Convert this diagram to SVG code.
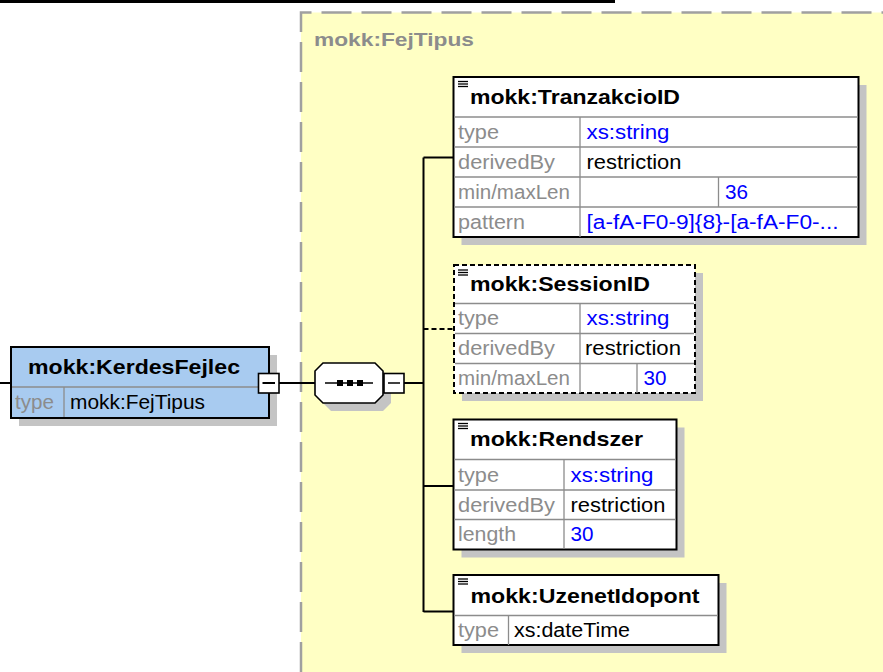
<svg xmlns="http://www.w3.org/2000/svg" width="883" height="672" viewBox="0 0 883 672">
<style>
.bg{fill:#ffffff}
.yel{fill:#ffffc4}
.ybord{fill:none;stroke:#a0a0a0;stroke-width:2.5;stroke-dasharray:30,10}
.shadow{fill:#c4c4c4}
.box{fill:#ffffff;stroke:#000000;stroke-width:2}
.dbox{fill:#ffffff;stroke:#000000;stroke-width:2;stroke-dasharray:5,3}
.sep{stroke:#8c8c8c;stroke-width:1.3;fill:none}
.hd{font-family:"Liberation Sans",Arial,sans-serif;font-weight:bold;font-size:21px;fill:#000000}
.lbl{font-family:"Liberation Sans",Arial,sans-serif;font-size:19.5px;fill:#8c8c8c}
.val{font-family:"Liberation Sans",Arial,sans-serif;font-size:19.5px;fill:#000000}
.blu{font-family:"Liberation Sans",Arial,sans-serif;font-size:19.5px;fill:#0000ff}
.ytxt{font-family:"Liberation Sans",Arial,sans-serif;font-weight:bold;font-size:19px;fill:#8c8c8c}
.con{stroke:#000000;stroke-width:2;fill:none}
.dcon{stroke:#000000;stroke-width:2;fill:none;stroke-dasharray:5,3}
.ico{stroke:#000000;stroke-width:1.3}
.mbox{fill:#ffffff;stroke:#000000;stroke-width:1.6}
</style>
<rect class="bg" x="0" y="0" width="883" height="672"/>
<rect x="0" y="0" width="615" height="3" fill="#000000"/>

<g id="complexType-FejTipus">
<rect class="yel" x="301" y="12.5" width="582" height="660"/>
<path class="ybord" d="M301,672 L301,12.5 L883,12.5"/>
<text class="ytxt" x="314" y="46" textLength="160" lengthAdjust="spacingAndGlyphs">mokk:FejTipus</text>
</g>

<g id="connectors">
<line class="con" x1="0" y1="383" x2="11" y2="383"/>
<line class="con" x1="279" y1="383" x2="315" y2="383"/>
<line class="con" x1="404" y1="383" x2="424" y2="383"/>
<line class="con" x1="423.5" y1="157.5" x2="423.5" y2="612"/>
<line class="con" x1="423.5" y1="157.5" x2="453" y2="157.5"/>
<line class="dcon" x1="423.5" y1="329" x2="454" y2="329"/>
<line class="con" x1="423.5" y1="486" x2="453" y2="486"/>
<line class="con" x1="423.5" y1="611.5" x2="453" y2="611.5"/>
</g>

<g id="KerdesFejlec">
<rect class="shadow" x="19" y="355" width="258" height="71"/>
<rect x="11" y="347" width="258" height="71" fill="#a8cbf0" stroke="#000000" stroke-width="2"/>
<line class="sep" x1="12" y1="387" x2="268" y2="387"/>
<line class="sep" x1="64" y1="387" x2="64" y2="417"/>
<text class="hd" x="28" y="374" textLength="212" lengthAdjust="spacingAndGlyphs">mokk:KerdesFejlec</text>
<text class="lbl" x="15" y="408.5" textLength="39" lengthAdjust="spacingAndGlyphs">type</text>
<text class="val" x="70" y="408.5" textLength="135" lengthAdjust="spacingAndGlyphs">mokk:FejTipus</text>
<rect class="mbox" x="258.5" y="373.5" width="20.5" height="19.5"/>
<line class="con" x1="262.5" y1="383" x2="275" y2="383" stroke-width="1.5"/>
</g>

<g id="sequence">
<polygon class="shadow" points="331,371 383,371 391,379 391,403 383,411 331,411 323,403 323,379"/>
<polygon fill="#ffffff" stroke="#000000" stroke-width="1.6" points="323,363 375,363 383,371 383,395 375,403 323,403 315,395 315,371"/>
<line x1="325" y1="383" x2="373" y2="383" stroke="#000000" stroke-width="1.5"/>
<rect x="337" y="380" width="6" height="6" fill="#000000"/>
<rect x="347" y="380" width="6" height="6" fill="#000000"/>
<rect x="357" y="380" width="6" height="6" fill="#000000"/>
<rect class="mbox" x="384" y="373.5" width="20" height="19.5"/>
<line x1="388" y1="383" x2="400" y2="383" stroke="#000000" stroke-width="1.5"/>
</g>

<g id="TranzakcioID">
<rect class="shadow" x="461.5" y="85" width="405" height="160"/>
<rect class="box" x="453.5" y="77" width="405" height="160"/>
<line class="sep" x1="454" y1="117" x2="858" y2="117"/>
<line class="sep" x1="454" y1="147" x2="858" y2="147"/>
<line class="sep" x1="454" y1="177" x2="858" y2="177"/>
<line class="sep" x1="454" y1="207" x2="858" y2="207"/>
<line class="sep" x1="580" y1="117" x2="580" y2="237"/>
<line class="sep" x1="718.5" y1="177" x2="718.5" y2="207"/>
<line class="ico" x1="458" y1="81.5" x2="468" y2="81.5"/>
<line class="ico" x1="458" y1="84" x2="468" y2="84"/>
<line class="ico" x1="458" y1="86.5" x2="468" y2="86.5"/>
<text class="hd" x="470" y="104" textLength="210" lengthAdjust="spacingAndGlyphs">mokk:TranzakcioID</text>
<text class="lbl" x="458" y="138.5" textLength="41" lengthAdjust="spacingAndGlyphs">type</text>
<text class="blu" x="586.5" y="138.5" textLength="83" lengthAdjust="spacingAndGlyphs">xs:string</text>
<text class="lbl" x="458" y="168.5" textLength="97" lengthAdjust="spacingAndGlyphs">derivedBy</text>
<text class="val" x="586.5" y="168.5" textLength="95" lengthAdjust="spacingAndGlyphs">restriction</text>
<text class="lbl" x="458" y="198.5" textLength="112" lengthAdjust="spacingAndGlyphs">min/maxLen</text>
<text class="blu" x="725" y="198.5" textLength="23" lengthAdjust="spacingAndGlyphs">36</text>
<text class="lbl" x="458" y="228.5" textLength="67" lengthAdjust="spacingAndGlyphs">pattern</text>
<text class="blu" x="586.5" y="228.5" textLength="252" lengthAdjust="spacingAndGlyphs">[a-fA-F0-9]{8}-[a-fA-F0-...</text>
</g>

<g id="SessionID">
<rect class="shadow" x="462" y="273" width="241" height="128"/>
<rect class="dbox" x="454" y="265" width="241" height="128"/>
<line class="sep" x1="455" y1="303.5" x2="694" y2="303.5"/>
<line class="sep" x1="455" y1="333.5" x2="694" y2="333.5"/>
<line class="sep" x1="455" y1="363.5" x2="694" y2="363.5"/>
<line class="sep" x1="580" y1="303.5" x2="580" y2="393"/>
<line class="sep" x1="637" y1="363.5" x2="637" y2="393"/>
<line class="ico" x1="458" y1="270" x2="468" y2="270"/>
<line class="ico" x1="458" y1="272.5" x2="468" y2="272.5"/>
<line class="ico" x1="458" y1="275" x2="468" y2="275"/>
<text class="hd" x="470" y="290.5" textLength="180" lengthAdjust="spacingAndGlyphs">mokk:SessionID</text>
<text class="lbl" x="458" y="325" textLength="41" lengthAdjust="spacingAndGlyphs">type</text>
<text class="blu" x="586.5" y="325" textLength="83" lengthAdjust="spacingAndGlyphs">xs:string</text>
<text class="lbl" x="458" y="355" textLength="97" lengthAdjust="spacingAndGlyphs">derivedBy</text>
<text class="val" x="585" y="355" textLength="96" lengthAdjust="spacingAndGlyphs">restriction</text>
<text class="lbl" x="458" y="385" textLength="112" lengthAdjust="spacingAndGlyphs">min/maxLen</text>
<text class="blu" x="643.5" y="385" textLength="23" lengthAdjust="spacingAndGlyphs">30</text>
</g>

<g id="Rendszer">
<rect class="shadow" x="461.5" y="427.5" width="223" height="130"/>
<rect class="box" x="453.5" y="419.5" width="223" height="130"/>
<line class="sep" x1="454" y1="459.5" x2="676" y2="459.5"/>
<line class="sep" x1="454" y1="490" x2="676" y2="490"/>
<line class="sep" x1="454" y1="519.5" x2="676" y2="519.5"/>
<line class="sep" x1="564" y1="459.5" x2="564" y2="549"/>
<line class="ico" x1="458" y1="423.5" x2="468" y2="423.5"/>
<line class="ico" x1="458" y1="426" x2="468" y2="426"/>
<line class="ico" x1="458" y1="428.5" x2="468" y2="428.5"/>
<text class="hd" x="470" y="445.5" textLength="173" lengthAdjust="spacingAndGlyphs">mokk:Rendszer</text>
<text class="lbl" x="458" y="481.5" textLength="41" lengthAdjust="spacingAndGlyphs">type</text>
<text class="blu" x="570.5" y="481.5" textLength="83" lengthAdjust="spacingAndGlyphs">xs:string</text>
<text class="lbl" x="458" y="511.5" textLength="97" lengthAdjust="spacingAndGlyphs">derivedBy</text>
<text class="val" x="570.5" y="511.5" textLength="95" lengthAdjust="spacingAndGlyphs">restriction</text>
<text class="lbl" x="458" y="541" textLength="58" lengthAdjust="spacingAndGlyphs">length</text>
<text class="blu" x="570.5" y="541" textLength="23" lengthAdjust="spacingAndGlyphs">30</text>
</g>

<g id="UzenetIdopont">
<rect class="shadow" x="461.5" y="583" width="265" height="70"/>
<rect class="box" x="453.5" y="575" width="265" height="70"/>
<line class="sep" x1="454" y1="615.5" x2="718" y2="615.5"/>
<line class="sep" x1="508.5" y1="615.5" x2="508.5" y2="645"/>
<line class="ico" x1="458" y1="579" x2="468" y2="579"/>
<line class="ico" x1="458" y1="581.5" x2="468" y2="581.5"/>
<line class="ico" x1="458" y1="584" x2="468" y2="584"/>
<text class="hd" x="470.5" y="603" textLength="229" lengthAdjust="spacingAndGlyphs">mokk:UzenetIdopont</text>
<text class="lbl" x="458" y="637" textLength="41" lengthAdjust="spacingAndGlyphs">type</text>
<text class="val" x="514" y="637" textLength="116" lengthAdjust="spacingAndGlyphs">xs:dateTime</text>
</g>
</svg>
